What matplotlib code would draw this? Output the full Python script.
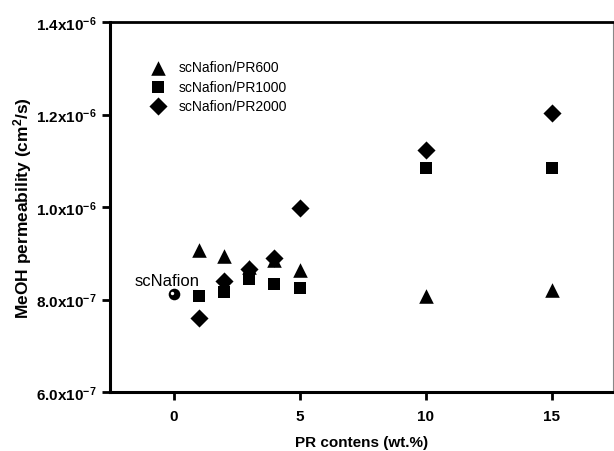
import matplotlib
matplotlib.use("Agg")
import matplotlib.pyplot as plt
from matplotlib.ticker import FixedLocator, FixedFormatter

plt.rcParams['font.family'] = ['Liberation Sans', 'DejaVu Sans']
plt.rcParams['mathtext.fontset'] = 'custom'
plt.rcParams['mathtext.rm'] = 'Liberation Sans:bold'
plt.rcParams['mathtext.it'] = 'Liberation Sans:bold'
plt.rcParams['mathtext.bf'] = 'Liberation Sans:bold'
plt.rcParams['mathtext.default'] = 'rm'
plt.rcParams['axes.unicode_minus'] = False

# Data
x_pr = [1, 2, 3, 4, 5, 10, 15]
pr600 = [9.06e-7, 8.95e-7, 8.70e-7, 8.85e-7, 8.64e-7, 8.08e-7, 8.21e-7]
pr1000 = [8.08e-7, 8.16e-7, 8.44e-7, 8.34e-7, 8.24e-7, 1.084e-6, 1.084e-6]
pr2000 = [7.61e-7, 8.41e-7, 8.66e-7, 8.89e-7, 9.97e-7, 1.123e-6, 1.203e-6]
x_base = [0]
scnafion = [8.12e-7]

yticks = [6.0e-7, 8.0e-7, 1.0e-6, 1.2e-6, 1.4e-6]
ytick_labels = ['6.0x10$^{-7}$', '8.0x10$^{-7}$', '1.0x10$^{-6}$', '1.2x10$^{-6}$', '1.4x10$^{-6}$']
xticks = [0, 5, 10, 15]
series_names = ['scNafion/PR600', 'scNafion/PR1000', 'scNafion/PR2000']

fig = plt.figure(figsize=(6.14, 4.52), dpi=100)
ax = fig.add_axes([110/614, 59/452, 503/614, 370/452])

ax.scatter(x_pr, pr600, marker='^', s=110, color='black', label=series_names[0], zorder=3, linewidths=0)
ax.scatter(x_pr, pr1000, marker='s', s=80, color='black', label=series_names[1], zorder=3, linewidths=0)
ax.scatter(x_pr, pr2000, marker='D', s=85, color='black', label=series_names[2], zorder=4, linewidths=0)
ax.scatter(x_base, scnafion, marker='o', s=70, color='black', zorder=4, linewidths=0)
ax.scatter([x_base[0] - 0.07], [scnafion[0] + 0.03e-7], marker='o', s=6, color='white', zorder=5, linewidths=0)
ax.text(-0.25, 8.42e-7, 'scNafion', fontsize=12, ha='center', va='center')

ax.set_xlim(-2.52, 17.42)
ax.set_ylim(6.0e-7, 1.4e-6)
ax.yaxis.set_major_locator(FixedLocator(yticks))
ax.yaxis.set_major_formatter(FixedFormatter(ytick_labels))
ax.set_xticks(xticks)
ax.set_xticklabels([str(v) for v in xticks])

for lab in ax.get_xticklabels() + ax.get_yticklabels():
    lab.set_fontweight('bold')
    lab.set_fontsize(11)

ax.tick_params(direction='out', length=6, width=2, pad=4)
ax.tick_params(axis='x', pad=6)
ax.spines['left'].set_linewidth(2.2)
ax.spines['bottom'].set_linewidth(2.2)
ax.spines['top'].set_linewidth(2.0)
ax.spines['right'].set_linewidth(0.8)
ax.spines['right'].set_color('#888888')

ax.set_xlabel('PR contens (wt.%)', fontsize=11, fontweight='bold', labelpad=9)
ax.set_ylabel('MeOH permeability (cm$^2$/s)', fontsize=12.5, fontweight='bold', labelpad=1)

leg = ax.legend(loc='upper left', bbox_to_anchor=(0.065, 0.915), frameon=False,
                fontsize=10, handletextpad=0.9, labelspacing=0.38, borderpad=0,
                handlelength=1.2)

fig.savefig('out.png', dpi=100)
